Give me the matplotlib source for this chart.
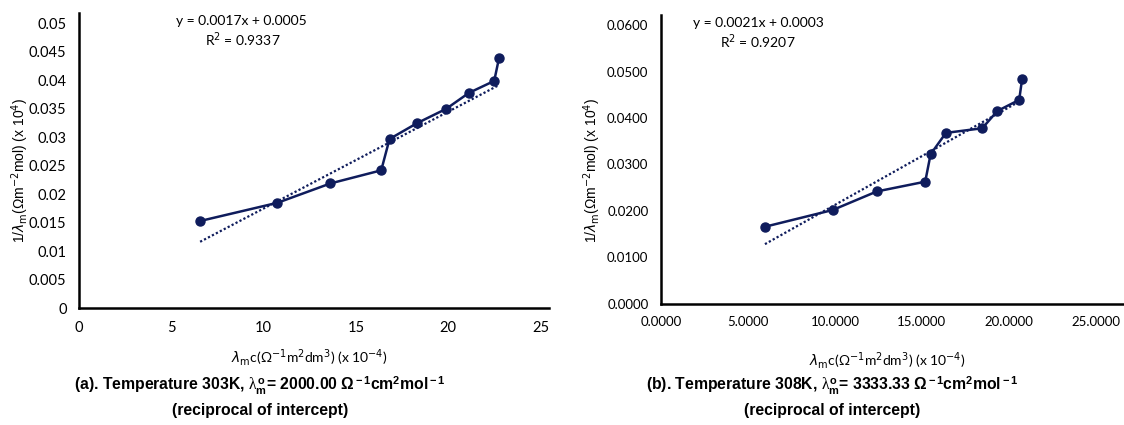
import matplotlib
matplotlib.use("Agg")
import matplotlib.pyplot as plt

# (a) 303 K
x_a = [6.56, 10.75, 13.62, 16.37, 16.82, 18.32, 19.89, 21.12, 22.49, 22.75]
y_a = [0.0153, 0.0185, 0.0219, 0.0242, 0.0297, 0.0325, 0.0350, 0.0378, 0.0399, 0.0439]
slope_a, icept_a = 0.0017, 0.0005

# (b) 308 K
x_b = [5.98, 9.87, 12.41, 15.19, 15.50, 16.38, 18.47, 19.33, 20.59, 20.76]
y_b = [0.0166, 0.0202, 0.0242, 0.0263, 0.0322, 0.0368, 0.0378, 0.0415, 0.0439, 0.0484]
slope_b, icept_b = 0.0021, 0.0003

yticks_a = [0, 0.005, 0.01, 0.015, 0.02, 0.025, 0.03, 0.035, 0.04, 0.045, 0.05]
yticks_b = [0, 0.01, 0.02, 0.03, 0.04, 0.05, 0.06]
xticks = [0, 5, 10, 15, 20, 25]

navy = "#0f1c5c"
tick_font = "Lato"

# captions use their own math fonts (upright serif lambda, sans superscripts)
plt.rcParams["mathtext.rm"] = "Liberation Sans:bold"
plt.rcParams["mathtext.it"] = "Liberation Serif"
plt.rcParams["mathtext.bf"] = "Liberation Sans:bold"

fig = plt.figure(figsize=(11.24, 4.25), dpi=100)

ax1 = fig.add_axes([0.0703, 0.275, 0.418, 0.694])
ax2 = fig.add_axes([0.588, 0.285, 0.4644, 0.680])


def style(ax, size):
    for s in ["top", "right"]:
        ax.spines[s].set_visible(False)
    for s in ["left", "bottom"]:
        ax.spines[s].set_linewidth(1.8)
        ax.spines[s].set_color("black")
    ax.tick_params(length=0, pad=9, labelsize=size)
    for lab in ax.get_xticklabels() + ax.get_yticklabels():
        lab.set_fontfamily(tick_font)


# panel a
ax1.plot([x_a[0], x_a[-1]], [slope_a * x_a[0] + icept_a, slope_a * x_a[-1] + icept_a],
         ls=(0, (1, 1)), color=navy, lw=1.6)
ax1.plot(x_a, y_a, color=navy, lw=1.8, marker="o", ms=6.5)
ax1.set_xlim(0, 25.45)
ax1.set_ylim(0, 0.0518)
ax1.set_xticks(xticks)
ax1.set_yticks(yticks_a)
ax1.set_xticklabels([str(v) for v in xticks])
ax1.set_yticklabels(["0"] + [f"{v:g}" for v in yticks_a[1:]])
style(ax1, 10.5)

# panel b (axis runs past the right edge of the picture)
ax2.plot([x_b[0], x_b[-1]], [slope_b * x_b[0] + icept_b, slope_b * x_b[-1] + icept_b],
         ls=(0, (1, 1)), color=navy, lw=1.6)
ax2.plot(x_b, y_b, color=navy, lw=1.8, marker="o", ms=6.5)
ax2.set_xlim(0, 30)
ax2.set_ylim(0, 0.0622)
ax2.set_xticks(xticks)
ax2.set_yticks(yticks_b)
ax2.set_xticklabels([f"{v:.4f}" for v in xticks])
ax2.set_yticklabels([f"{v:.4f}" for v in yticks_b])
style(ax2, 9.5)

ylab = r"1/$\lambda_{\rm m}$(Ωm$^{-2}$mol) (x 10$^{4}$)"
xlab = r"$\lambda_{\rm m}$c(Ω$^{-1}$m$^{2}$dm$^{3}$) (x 10$^{-4}$)"

fig.text(0.018, 0.60, ylab, rotation=90, ha="center", va="center",
         fontsize=10, family="Liberation Sans", math_fontfamily="dejavusans")
fig.text(0.527, 0.60, ylab, rotation=90, ha="center", va="center",
         fontsize=10, family="Liberation Sans", math_fontfamily="dejavusans")
fig.text(0.275, 0.158, xlab, ha="center", va="center", fontsize=10, family=tick_font,
         math_fontfamily="dejavusans")
fig.text(0.789, 0.152, xlab, ha="center", va="center", fontsize=10, family=tick_font,
         math_fontfamily="dejavusans")

# trendline labels
fig.text(0.2145, 0.950, f"y = {slope_a:.4f}x + {icept_a:.4f}", ha="center", va="center",
         fontsize=10, family=tick_font)
fig.text(0.2160, 0.906, "R$^{2}$ = 0.9337", ha="center", va="center",
         fontsize=10, family=tick_font, math_fontfamily="dejavusans")
fig.text(0.6745, 0.946, f"y = {slope_b:.4f}x + {icept_b:.4f}", ha="center", va="center",
         fontsize=10, family=tick_font)
fig.text(0.6745, 0.901, "R$^{2}$ = 0.9207", ha="center", va="center",
         fontsize=10, family=tick_font, math_fontfamily="dejavusans")

# captions
cap_fam = "Liberation Sans"
tail = r"Ω$^{\rm -1}$cm$^{\rm 2}$mol$^{\rm -1}$"
lam = r"$\lambda_{\rm m}^{\rm o}$"
fig.text(0.231, 0.094, "(a). Temperature 303K, " + lam + "= 2000.00 " + tail,
         ha="center", va="center", fontsize=11.3, fontweight="bold", family=cap_fam,
         math_fontfamily="custom")
fig.text(0.231, 0.035, "(reciprocal of intercept)", ha="center", va="center",
         fontsize=11.3, fontweight="bold", family=cap_fam)
fig.text(0.740, 0.094, "(b). Temperature 308K, " + lam + "= 3333.33 " + tail,
         ha="center", va="center", fontsize=11.3, fontweight="bold", family=cap_fam,
         math_fontfamily="custom")
fig.text(0.740, 0.035, "(reciprocal of intercept)", ha="center", va="center",
         fontsize=11.3, fontweight="bold", family=cap_fam)

fig.savefig("out.png", dpi=100)
